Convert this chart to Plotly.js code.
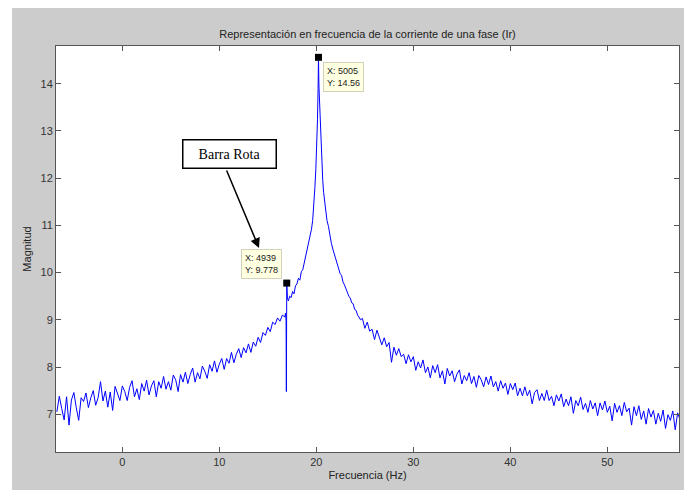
<!DOCTYPE html>
<html>
<head>
<meta charset="utf-8">
<script src="https://cdn.plot.ly/plotly-3.0.1.min.js"></script>
<style>html,body{margin:0;padding:0;background:#fff;}#chart{width:684px;height:490px;}</style>
</head>
<body>
<div id="chart"></div>
<script>
// Frequency (Hz) of each plotted sample
const freq = [
  -6.75,-6.5,-6.25,
  -6,-5.75,-5.5,-5.25, -5,-4.75,-4.5,-4.25, -4,-3.75,-3.5,-3.25, -3,-2.75,-2.5,-2.25,
  -2,-1.75,-1.5,-1.25, -1,-0.75,-0.5,-0.25, 0,0.25,0.5,0.75, 1,1.25,1.5,1.75,
  2,2.25,2.5,2.75, 3,3.25,3.5,3.75, 4,4.25,4.5,4.75, 5,5.25,5.5,5.75,
  6,6.25,6.5,6.75, 7,7.25,7.5,7.75, 8,8.25,8.5,8.75, 9,9.25,9.5,9.75,
  10,10.25,10.5,10.75, 11,11.25,11.5,11.75, 12,12.25,12.5,12.75, 13,13.25,13.5,13.75,
  14,14.25,14.5,14.75, 15,15.25,15.5,15.75, 16,16.25,16.5,16.75,
  16.82,16.88,16.91,16.95, 17.02,17.12,17.25,17.4, 17.55,17.7,17.85,18.0,
  18.15,18.3,18.45,18.6, 18.75,18.9,19.05,19.2, 19.35,19.5,19.62,19.74,
  19.85,19.95,20.04,20.12, 20.18,20.22,20.27,20.34, 20.42,20.5,20.58,20.66,
  20.75,20.86,20.98,21.1, 21.25,21.4,21.55,21.7, 21.85,22.0,22.15,22.3,
  22.45,22.6,22.75,22.9, 23.05,23.2,23.35,23.5, 23.65,23.8,23.95,24.1,
  24.25,24.4,24.55, 24.75,
  25,25.25,25.5,25.75, 26,26.25,26.5,26.75, 27,27.25,27.5,27.75, 28,28.25,28.5,28.75,
  29,29.25,29.5,29.75, 30,30.25,30.5,30.75, 31,31.25,31.5,31.75, 32,32.25,32.5,32.75,
  33,33.25,33.5,33.75, 34,34.25,34.5,34.75, 35,35.25,35.5,35.75, 36,36.25,36.5,36.75,
  37,37.25,37.5,37.75, 38,38.25,38.5,38.75, 39,39.25,39.5,39.75, 40,40.25,40.5,40.75,
  41,41.25,41.5,41.75, 42,42.25,42.5,42.75, 43,43.25,43.5,43.75, 44,44.25,44.5,44.75,
  45,45.25,45.5,45.75, 46,46.25,46.5,46.75, 47,47.25,47.5,47.75, 48,48.25,48.5,48.75,
  49,49.25,49.5,49.75, 50,50.25,50.5,50.75, 51,51.25,51.5,51.75, 52,52.25,52.5,52.75,
  53,53.25,53.5,53.75, 54,54.25,54.5,54.75, 55,55.25,55.5,55.75, 56,56.25,56.5,56.75,
  57,57.25,57.5
];
// Magnitude
const magnitude = [
  7.05,7.38,7.12,
  6.88,7.37,6.77,7.30, 7.46,7.14,6.87,7.35, 7.27,7.45,7.14,7.35, 7.50,7.19,7.35,7.69,
  7.28,7.49,7.15,7.47, 7.08,7.59,7.42,7.29, 7.60,7.48,7.29,7.57, 7.71,7.37,7.54,7.31,
  7.65,7.49,7.72,7.41, 7.60,7.71,7.37,7.69, 7.55,7.80,7.53,7.69, 7.51,7.83,7.73,7.48,
  7.84,7.68,7.89,7.65, 7.84,7.98,7.68,7.88, 7.75,8.02,7.91,7.76, 8.05,7.91,8.13,7.89,
  8.06,8.18,7.95,8.18, 8.08,8.31,8.09,8.27, 8.39,8.20,8.41,8.30, 8.49,8.31,8.53,8.44,
  8.63,8.52,8.73,8.67, 8.84,8.75,8.95,8.90, 9.04,8.97,9.10,9.06,
  9.14,8.98,7.48,9.778, 9.46,9.40,9.50,9.47, 9.60,9.55,9.72,9.76,
  9.88,9.84,10.02,10.06, 10.20,10.30,10.44,10.58, 10.74,10.92,11.10,11.40,
  11.80,12.20,12.60,13.25, 13.90,14.56,13.95,13.55, 13.00,12.62,12.25,11.95,
  11.70,11.48,11.28,11.10, 10.98,10.78,10.62,10.50, 10.40,10.30,10.18,10.12,
  9.98,9.94,9.80,9.74, 9.65,9.60,9.50,9.46, 9.36,9.34,9.22,9.20,
  9.10,9.06,9.00, 9.03,
  8.82,8.95,8.76,8.80, 8.58,8.78,8.63,8.47, 8.62,8.43,8.52,8.10, 8.42,8.25,8.39,8.22,
  8.27,8.07,8.26,8.11, 8.22,7.93,8.11,7.98, 8.15,7.88,8.00,7.77, 8.03,7.88,8.05,7.77,
  7.92,7.64,7.97,7.81, 7.92,7.69,7.85,7.94, 7.64,7.82,7.71,7.88, 7.65,7.80,7.57,7.82,
  7.73,7.58,7.79,7.63, 7.81,7.58,7.69,7.49, 7.71,7.55,7.66,7.42, 7.65,7.52,7.66,7.39,
  7.55,7.39,7.58,7.39, 7.51,7.22,7.46,7.52, 7.29,7.44,7.29,7.51, 7.29,7.38,7.18,7.41,
  7.28,7.43,7.16,7.32, 7.18,7.37,7.02,7.29, 7.18,7.36,7.10,7.23, 7.04,7.29,7.11,7.24,
  6.97,7.24,7.09,7.28, 7.04,7.17,6.86,7.23, 7.04,7.18,6.97,7.25, 7.05,7.13,6.77,7.16,
  6.97,7.18,6.89,7.07, 6.79,7.12,6.94,7.08, 6.79,7.02,6.85,7.09, 6.70,6.99,6.87,7.07,
  6.67,7.03,6.88
];
// Data tips shown on the chart (sample index, frequency, magnitude)
const tipIndex = [4939, 5005];
const tipFreq = [16.95, 20.22];
const tipMag = [9.778, 14.56];
const tipLabels = tipIndex.map((ix, i) => 'X: ' + ix + '<br>Y: ' + tipMag[i]);

const titleText = 'Representación en frecuencia de la corriente de una fase (Ir)';
const xTitle = 'Frecuencia (Hz)';
const yTitle = 'Magnitud';
const noteText = 'Barra Rota';

const W = 684, H = 490;
const mL = 56, mR = 5, mT = 46, mB = 38;
const pw = W - mL - mR, ph = H - mT - mB;
const px2x = p => (p - mL) / pw;
const py2y = p => (H - mB - p) / ph;

const axisCommon = {
  showline: true, linecolor: '#555', linewidth: 1, mirror: 'ticks',
  ticks: 'inside', ticklen: 5, tickcolor: '#555', tickwidth: 1,
  showgrid: false, zeroline: false,
  tickfont: {family: 'Liberation Sans, Arial, sans-serif', size: 11, color: '#333'}
};

const traces = [
  {x: freq, y: magnitude, type: 'scatter', mode: 'lines',
   line: {color: '#0000ff', width: 1}, hoverinfo: 'skip'},
  {x: tipFreq, y: tipMag, type: 'scatter', mode: 'markers',
   marker: {symbol: 'square', size: 7, color: '#000'}, hoverinfo: 'skip', cliponaxis: false}
];

const tipStyle = {
  showarrow: false, xref: 'x', yref: 'y', align: 'left',
  bgcolor: '#ffffe1', bordercolor: '#d2d2b8', borderwidth: 1, borderpad: 3,
  font: {family: 'Liberation Sans, Arial, sans-serif', size: 9, color: '#222'}
};

const layout = {
  width: W, height: H,
  margin: {l: mL, r: mR, t: mT, b: mB},
  paper_bgcolor: '#cccccc', plot_bgcolor: '#ffffff',
  showlegend: false,
  title: {text: titleText, x: 0.5, xref: 'paper', xanchor: 'center',
          y: 1 - 34 / H, yref: 'container', yanchor: 'middle',
          font: {family: 'Liberation Sans, Arial, sans-serif', size: 11, color: '#222'}},
  xaxis: Object.assign({}, axisCommon, {
    range: [-6.84, 57.39], tick0: 0, dtick: 10,
    title: {text: xTitle, standoff: 4,
            font: {family: 'Liberation Sans, Arial, sans-serif', size: 11, color: '#222'}}
  }),
  yaxis: Object.assign({}, axisCommon, {
    range: [6.2, 14.8], tick0: 0, dtick: 1,
    title: {text: yTitle, standoff: 6,
            font: {family: 'Liberation Sans, Arial, sans-serif', size: 11, color: '#222'}}
  }),
  shapes: [
    {type: 'rect', xref: 'paper', yref: 'paper', x0: -0.2, x1: 1.2,
     y0: py2y(8), y1: py2y(-20), fillcolor: '#ffffff', line: {width: 0}, layer: 'above'},
    {type: 'rect', xref: 'paper', yref: 'paper', x0: -0.2, x1: px2x(12),
     y0: -0.2, y1: 1.2, fillcolor: '#ffffff', line: {width: 0}, layer: 'above'}
  ],
  annotations: [
    {xref: 'paper', yref: 'paper', x: px2x(230), y: py2y(154),
     xanchor: 'center', yanchor: 'middle', showarrow: false,
     text: noteText, width: 92, height: 27, borderpad: 0,
     bgcolor: '#ffffff', bordercolor: '#000', borderwidth: 1.5,
     font: {family: 'Liberation Serif, Times New Roman, serif', size: 14, color: '#000'}},
    {xref: 'paper', yref: 'paper', x: px2x(259), y: py2y(248), text: '',
     showarrow: true, arrowhead: 2, arrowsize: 1.3, arrowwidth: 1.5, arrowcolor: '#000',
     axref: 'pixel', ayref: 'pixel', ax: 226 - 259, ay: 169 - 248, standoff: 0},
    Object.assign({}, tipStyle, {x: tipFreq[0], y: tipMag[0], text: tipLabels[0],
      xanchor: 'right', yanchor: 'bottom', xshift: -5, yshift: 4}),
    Object.assign({}, tipStyle, {x: tipFreq[1], y: tipMag[1], text: tipLabels[1],
      xanchor: 'left', yanchor: 'top', xshift: 5, yshift: -5})
  ]
};

Plotly.newPlot('chart', traces, layout, {displayModeBar: false, staticPlot: true});
</script>
</body>
</html>
